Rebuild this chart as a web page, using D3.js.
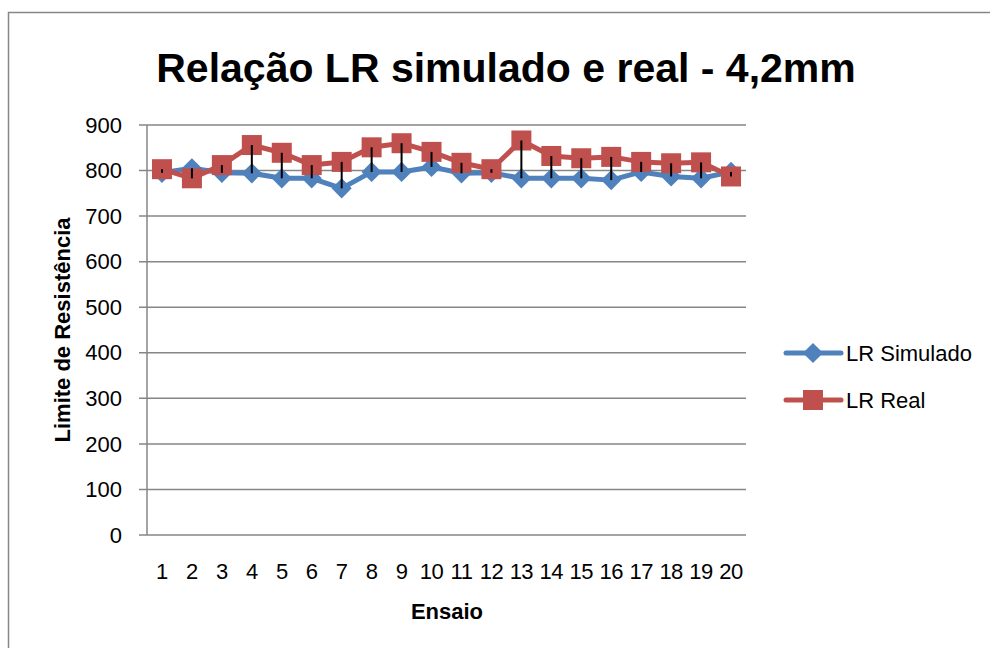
<!DOCTYPE html>
<html>
<head>
<meta charset="utf-8">
<script src="https://cdn.jsdelivr.net/npm/d3@7"></script>
<style>
  body { margin: 0; background: #fff; }
  text { font-family: "Liberation Sans", Arial, sans-serif; fill: #000; }
</style>
</head>
<body>
<svg id="chart" width="990" height="648"></svg>
<script>
// data
const ensaios = ["1","2","3","4","5","6","7","8","9","10","11","12","13","14","15","16","17","18","19","20"];
const lrSimulado = [795, 805, 795, 794, 783, 783, 761, 797, 797, 808, 794, 795, 783, 783, 783, 779, 797, 787, 783, 797];
const lrReal = [803, 783, 812, 856, 839, 812, 819, 851, 860, 841, 817, 803, 866, 832, 827, 830, 819, 816, 818, 787];
const yTicks = [0, 100, 200, 300, 400, 500, 600, 700, 800, 900];

const width = 990, height = 648;
const margin = { left: 147, right: 244, top: 125, bottom: 113 };
const blue = "#4f81bd", red = "#c0504d", grid = "#868686";

let svg = d3.select("#chart");

// outer chart border (runs off the right and bottom)
svg.append("rect")
    .attr("x", 8.5).attr("y", 12.5)
    .attr("width", 1000).attr("height", 700)
    .attr("fill", "#fff")
    .attr("stroke", grid)
    .attr("stroke-width", 1.5);

let x = d3.scaleBand()
    .domain(ensaios)
    .range([margin.left, width - margin.right]);

let y = d3.scaleLinear()
    .domain([0, 900])
    .range([height - margin.bottom, margin.top]);

// gridlines
svg.append("g")
    .selectAll("line")
    .data(yTicks)
    .enter()
    .append("line")
    .attr("x1", margin.left - 8)
    .attr("x2", width - margin.right)
    .attr("y1", d => y(d))
    .attr("y2", d => y(d))
    .attr("stroke", grid)
    .attr("stroke-width", 1.5);

// y axis line
svg.append("line")
    .attr("x1", margin.left).attr("x2", margin.left)
    .attr("y1", y(900)).attr("y2", y(0))
    .attr("stroke", grid)
    .attr("stroke-width", 1.5);

// y tick labels
svg.append("g")
    .selectAll("text")
    .data(yTicks)
    .enter()
    .append("text")
    .attr("x", margin.left - 25)
    .attr("y", d => y(d))
    .attr("dy", "0.35em")
    .attr("text-anchor", "end")
    .attr("font-size", "22px")
    .text(d => d);

// x tick labels
svg.append("g")
    .selectAll("text")
    .data(ensaios)
    .enter()
    .append("text")
    .attr("x", d => x(d) + x.bandwidth() / 2)
    .attr("y", y(0) + 44)
    .attr("text-anchor", "middle")
    .attr("font-size", "22px")
    .attr("letter-spacing", "-0.5px")
    .text(d => d);

// title
svg.append("text")
    .attr("x", 506)
    .attr("y", 82)
    .attr("text-anchor", "middle")
    .attr("font-size", "41px")
    .attr("font-weight", "bold")
    .text("Relação LR simulado e real - 4,2mm");

// axis titles
svg.append("text")
    .attr("x", 447)
    .attr("y", 619)
    .attr("text-anchor", "middle")
    .attr("font-size", "22px")
    .attr("font-weight", "bold")
    .text("Ensaio");

svg.append("text")
    .attr("transform", "translate(70," + y(450) + ") rotate(-90)")
    .attr("text-anchor", "middle")
    .attr("font-size", "22px")
    .attr("font-weight", "bold")
    .text("Limite de Resistência");

const cx = (d, i) => x(ensaios[i]) + x.bandwidth() / 2;

let line = d3.line()
    .x((d, i) => cx(d, i))
    .y(d => y(d));

svg.append("path")
    .datum(lrSimulado)
    .attr("d", line)
    .attr("fill", "none")
    .attr("stroke", blue)
    .attr("stroke-width", 5)
    .attr("stroke-linejoin", "round");

svg.append("g")
    .selectAll("path")
    .data(lrSimulado)
    .enter()
    .append("path")
    .attr("d", d3.symbol().type(d3.symbolDiamond2).size(260))
    .attr("transform", (d, i) => "translate(" + cx(d, i) + "," + y(d) + ")")
    .attr("fill", blue);

svg.append("path")
    .datum(lrReal)
    .attr("d", line)
    .attr("fill", "none")
    .attr("stroke", red)
    .attr("stroke-width", 5)
    .attr("stroke-linejoin", "round");

svg.append("g")
    .selectAll("rect")
    .data(lrReal)
    .enter()
    .append("rect")
    .attr("x", (d, i) => cx(d, i) - 10)
    .attr("y", d => y(d) - 10)
    .attr("width", 20)
    .attr("height", 20)
    .attr("fill", red);

// high-low lines
svg.append("g")
    .selectAll("line")
    .data(ensaios)
    .enter()
    .append("line")
    .attr("x1", (d, i) => cx(d, i))
    .attr("x2", (d, i) => cx(d, i))
    .attr("y1", (d, i) => y(Math.max(lrSimulado[i], lrReal[i])))
    .attr("y2", (d, i) => y(Math.min(lrSimulado[i], lrReal[i])))
    .attr("stroke", "#000")
    .attr("stroke-width", 2);

// legend
const legendItems = [
    { name: "LR Simulado", color: blue, shape: "diamond", y: 353 },
    { name: "LR Real", color: red, shape: "square", y: 400 }
];

let legend = svg.append("g");
legendItems.forEach(item => {
    legend.append("line")
        .attr("x1", 786).attr("x2", 841)
        .attr("y1", item.y).attr("y2", item.y)
        .attr("stroke", item.color)
        .attr("stroke-width", 5)
        .attr("stroke-linecap", "round");
    if (item.shape == "diamond") {
        legend.append("path")
            .attr("d", d3.symbol().type(d3.symbolDiamond2).size(260))
            .attr("transform", "translate(813," + item.y + ")")
            .attr("fill", item.color);
    } else {
        legend.append("rect")
            .attr("x", 803).attr("y", item.y - 10)
            .attr("width", 20).attr("height", 20)
            .attr("fill", item.color);
    }
    legend.append("text")
        .attr("x", 846)
        .attr("y", item.y)
        .attr("dy", "0.35em")
        .attr("font-size", "22px")
        .text(item.name);
});
</script>
</body>
</html>
